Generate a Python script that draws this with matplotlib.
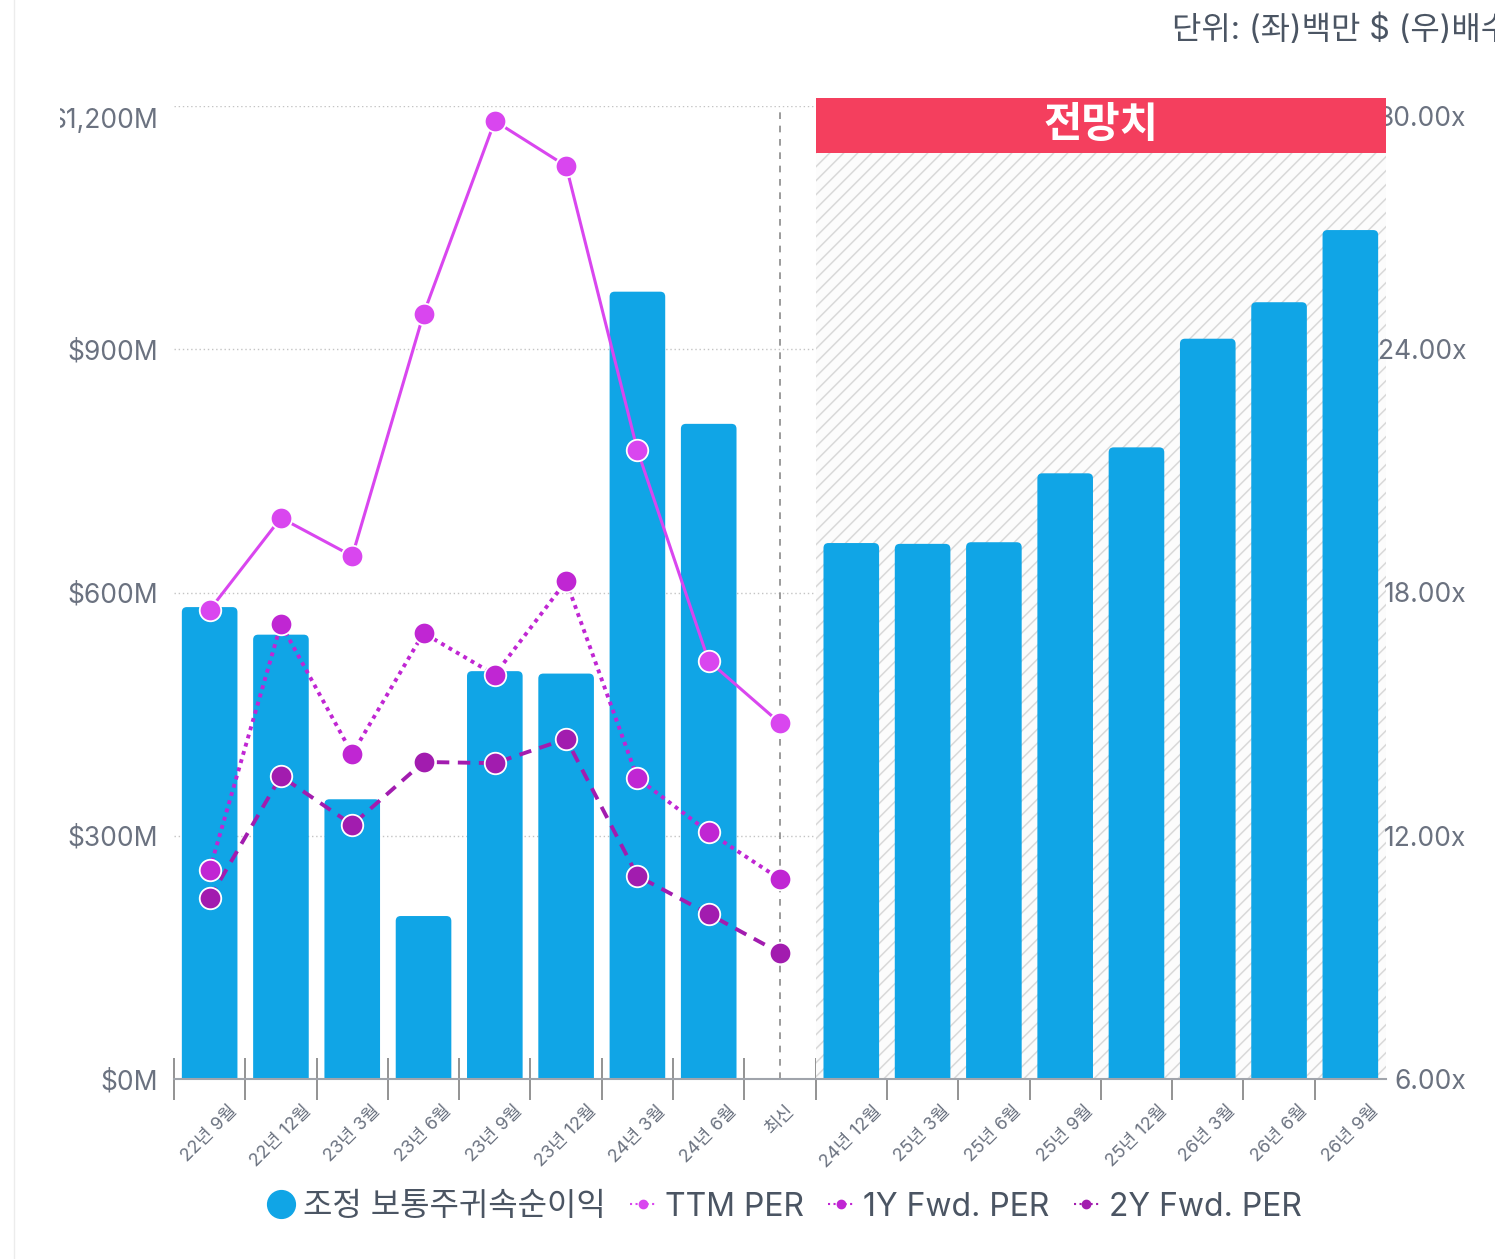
import matplotlib
matplotlib.use('Agg')
import matplotlib.pyplot as plt
from matplotlib.patches import Rectangle, FancyBboxPatch
from matplotlib.lines import Line2D
from matplotlib.transforms import Bbox, TransformedBbox, IdentityTransform
import numpy as np

plt.rcParams['font.family'] = ['Inter', 'Noto Sans CJK KR', 'DejaVu Sans']

# 데이터
periods = ['22년 9월', '22년 12월', '23년 3월', '23년 6월', '23년 9월', '23년 12월',
           '24년 3월', '24년 6월', '최신', '24년 12월', '25년 3월', '25년 6월',
           '25년 9월', '25년 12월', '26년 3월', '26년 6월', '26년 9월']
net_income = [582, 548, 345, 201, 503, 500, 971, 808, np.nan,
              661, 660, 662, 747, 779, 913, 958, 1047]  # 백만 $
ttm_per = [17.57, 19.84, 18.90, 24.87, 29.63, 28.52, 21.51, 16.31, 14.78]
fwd1_per = [11.16, 17.22, 14.02, 17.00, 15.97, 18.28, 13.42, 12.09, 10.93]
fwd2_per = [10.46, 13.47, 12.27, 13.82, 13.79, 14.39, 11.01, 10.07, 9.11]
left_ticks = [0, 300, 600, 900, 1200]
right_ticks = [6, 12, 18, 24, 30]
n_actual = 9  # 최신까지

bar_c = '#10a5e6'
ttm_c = '#d946ef'
fwd1_c = '#c026d3'
fwd2_c = '#a21caf'
txt_c = '#4b5563'
tick_c = '#6b7280'

W, H = 1495, 1259
fig = plt.figure(figsize=(W / 100, H / 100), dpi=100)
ax = fig.add_axes([174 / W, 1 - 1079 / H, (1386 - 174) / W, (1079 - 106) / H])
x = np.arange(len(periods))
ax.set_xlim(-0.5, len(periods) - 0.5)
ax.set_ylim(0, 1200)

# 막대 (위쪽 둥근 모서리)
bars = ax.bar(x, net_income, width=0.78, color=bar_c, zorder=3)
asp = (1200 / 973) / (len(periods) / 1212)
for b in bars:
    bx, bw, bh = b.get_x(), b.get_width(), b.get_height()
    b.remove()
    if np.isnan(bh):
        continue
    ax.add_patch(FancyBboxPatch((bx, -30), bw, bh + 30,
                                boxstyle='round,pad=0,rounding_size=0.07',
                                mutation_aspect=asp, facecolor=bar_c,
                                edgecolor='none', zorder=3))

# 전망치 영역 (빗금)
fc_rect = Rectangle((8.5, 0), 8, 1142, facecolor='#fcfcfc', lw=0, zorder=1)
ax.add_patch(fc_rect)
p0 = ax.transData.transform((8.5, 0))
p1 = ax.transData.transform((16.5, 1142))
span = p1[1] - p0[1]
for c in np.arange(p0[0] - span, p1[0], 14):
    hl = Line2D([c, c + span], [p0[1], p1[1]], transform=IdentityTransform(),
                color='#d9d9d9', lw=1.1, zorder=1.5)
    ax.add_artist(hl)
    hl.set_clip_path(fc_rect)
ax.axvline(8, color='#8a8a8a', ls=(0, (4, 4)), lw=1.2, zorder=2)

for s in ['top', 'left', 'right']:
    ax.spines[s].set_visible(False)
ax.spines['bottom'].set_color('#a0a4ab')
ax.spines['bottom'].set_linewidth(1.5)
ax.spines['bottom'].set_zorder(4)

ax.set_yticks(left_ticks)
ax.set_yticklabels([f'${v:,}M' for v in left_ticks])
ax.tick_params(axis='y', length=0, pad=11.5, labelsize=19, labelcolor=tick_c)
ax.yaxis.grid(True, linestyle=(0, (1, 2)), color='#c4c4c4', lw=1)
ax.set_axisbelow(True)
top_lab = ax.get_yticklabels()[-1]
top_lab.set_va('top')
top_lab.set_clip_box(TransformedBbox(Bbox([[60 / W, 0], [1, 1]]), fig.transFigure))
top_lab.set_clip_on(True)

ax.set_xticks(x)
ax.set_xticklabels(periods, rotation=45, ha='center', va='top')
ax.tick_params(axis='x', which='major', length=0, pad=17, labelsize=13, labelcolor=tick_c)
ax.set_xticks(np.arange(-0.5, len(periods) - 1), minor=True)
ax.tick_params(axis='x', which='minor', direction='inout', length=30, width=1.3, color='#8a8a8a')

# 오른쪽 축 (PER)
ax2 = ax.twinx()
for s in ['top', 'left', 'right', 'bottom']:
    ax2.spines[s].set_visible(False)
xa = x[:n_actual]
ax2.plot(xa, fwd2_per, color=fwd2_c, lw=2.8, ls=(0, (3.2, 2.2)), marker='o', ms=15.5,
         mec='white', mew=1.3, zorder=4)
ax2.plot(xa, fwd1_per, color=fwd1_c, lw=2.8, ls=(0, (1, 1.2)), marker='o', ms=15.5,
         mec='white', mew=1.3, zorder=4)
ax2.plot(xa, ttm_per, color=ttm_c, lw=2.2, marker='o', ms=15.5,
         mec='white', mew=1.3, zorder=4)

ax2.add_patch(Rectangle((8.5, 1142), 8, 68, transform=ax.transData, facecolor='#f43f5e',
                        lw=0, clip_on=False, zorder=6))
ax2.text(12.5, 1176, '전망치', transform=ax.transData, ha='center', va='center',
         fontsize=30, fontweight='bold', color='white', zorder=7, clip_on=False)

ax2.set_ylim(6, 30)
ax2.set_yticks(right_ticks)
ax2.set_yticklabels([f'{v:.2f}x' for v in right_ticks], ha='right')
ax2.tick_params(axis='y', length=0, pad=57.6, labelsize=19, labelcolor=tick_c)
ax2.get_yticklabels()[-1].set_va('top')

# 범례
handles = [
    Line2D([], [], ls='none', marker='o', ms=20, mfc=bar_c, mec=bar_c),
    Line2D([], [], color=ttm_c, ls=':', lw=1.5, marker='o', ms=6, mec=ttm_c),
    Line2D([], [], color=fwd1_c, ls=':', lw=1.5, marker='o', ms=6, mec=fwd1_c),
    Line2D([], [], color=fwd2_c, ls=':', lw=1.5, marker='o', ms=6, mec=fwd2_c),
]
labels = ['조정 보통주귀속순이익', 'TTM PER', '1Y Fwd. PER', '2Y Fwd. PER']
leg = fig.legend(handles, labels, loc='center', bbox_to_anchor=(785 / W, 1 - 1207 / H),
                 ncol=4, frameon=False, fontsize=23, handlelength=0.8,
                 handletextpad=0.3, columnspacing=0.75)
for t in leg.get_texts():
    t.set_color(txt_c)

fig.text(1172 / W, 1 - 30 / H, '단위: (좌)백만 $ (우)배수', ha='left', va='center',
         fontsize=23, color=txt_c)
fig.add_artist(Line2D([14 / W, 14 / W], [0, 1], color='#ececec', lw=1))

fig.savefig('out.png', dpi=100)
